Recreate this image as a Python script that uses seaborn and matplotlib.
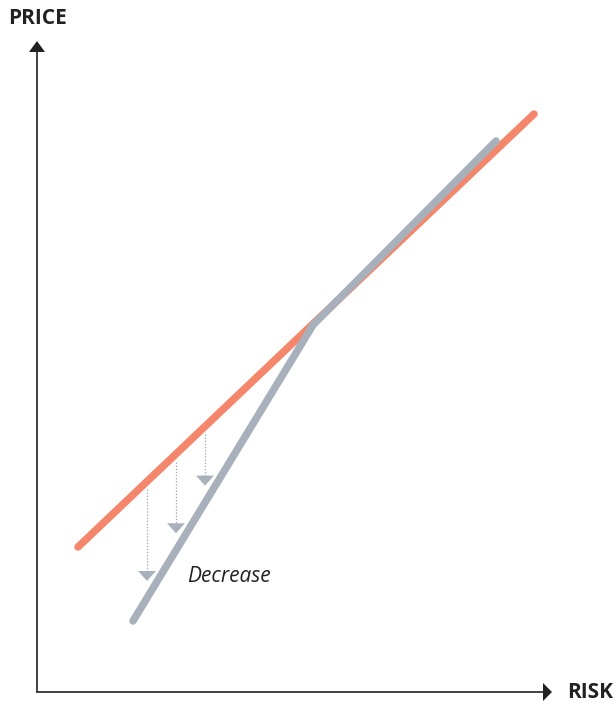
import numpy as np
import pandas as pd
import matplotlib
matplotlib.use("Agg")
import matplotlib.pyplot as plt
from matplotlib.patches import Polygon
import seaborn as sns

# Price vs. risk (arbitrary units, origin at the axis corner)
linear_risk = [41, 497]
linear_price = [145, 578]

kinked_risk = [96, 276, 459]
kinked_price = [71, 367, 551]

# Risk levels where the drop in price is marked
drop_risk = [110, 139, 168]
drop_label = "Decrease"

x_label = "RISK"
y_label = "PRICE"

ORANGE = "#F4876B"
GREY = "#A8B1BB"
INK = "#222222"

sns.set_theme(style="white")
plt.rcParams["font.family"] = ["Open Sans", "DejaVu Sans"]

fig = plt.figure(figsize=(6.16, 7.06), dpi=100)
ax = fig.add_axes([0, 0, 1, 1])
ax.set_xlim(-37, 579)
ax.set_ylim(-14, 692)
ax.axis("off")

df_lin = pd.DataFrame({"risk": linear_risk, "price": linear_price})
df_kink = pd.DataFrame({"risk": kinked_risk, "price": kinked_price})

sns.lineplot(data=df_lin, x="risk", y="price", color=ORANGE, lw=5.4,
             solid_capstyle="round", sort=False, ax=ax, zorder=2)
sns.lineplot(data=df_kink, x="risk", y="price", color=GREY, lw=5.4,
             solid_capstyle="round", solid_joinstyle="miter", sort=False,
             ax=ax, zorder=3)

# Dotted drop arrows from the linear line down toward the kinked line
for r in drop_risk:
    top = np.interp(r, linear_risk, linear_price) - 8
    bottom = np.interp(r, kinked_risk, kinked_price) + 17
    ax.plot([r, r], [top, bottom + 9], color="#9AA3AE", lw=0.9,
            ls=(0, (1, 1.5)), zorder=1)
    ax.add_patch(Polygon([[r - 9, bottom + 10], [r + 9, bottom + 10], [r, bottom]],
                         closed=True, color=GREY, lw=0, zorder=4))

ax.text(150, 116, drop_label, fontsize=15, style="italic", color=INK,
        ha="left", va="center")

# Axis lines with arrowheads
ax.plot([0, 0], [0, 642], color=INK, lw=1.2, zorder=1)
ax.plot([0, 508], [0, 0], color=INK, lw=1.2, zorder=1)
ax.add_patch(Polygon([[-8, 640], [8, 640], [0, 651]], closed=True,
                     color=INK, lw=0))
ax.add_patch(Polygon([[506, 9], [506, -9], [515, 0]], closed=True,
                     color=INK, lw=0))

ax.text(0, 674, y_label, fontsize=15, fontweight="bold", color=INK,
        ha="center", va="center")
ax.text(530, 0, x_label, fontsize=15, fontweight="bold", color=INK,
        ha="left", va="center")

fig.savefig("out.png", dpi=100)
